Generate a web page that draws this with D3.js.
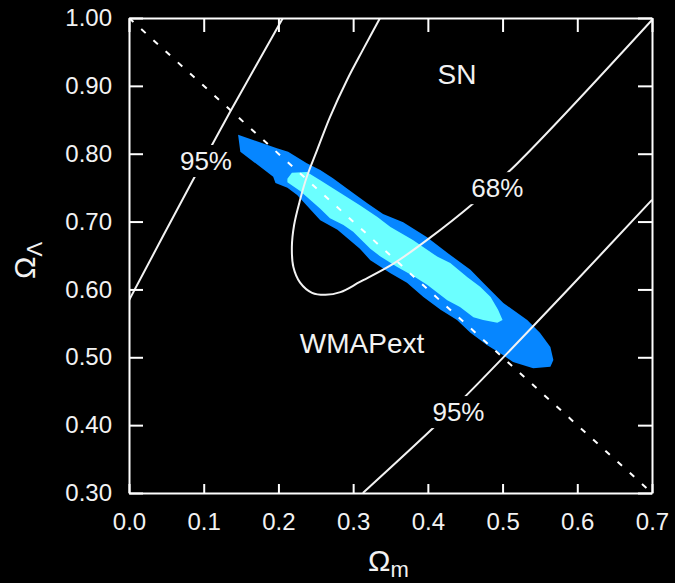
<!DOCTYPE html>
<html>
<head>
<meta charset="utf-8">
<script src="https://cdn.jsdelivr.net/npm/d3@7"></script>
<style>
  body { margin: 0; background: #000; }
  svg { display: block; background: #000; font-family: "Liberation Sans", Arial, sans-serif; }
</style>
</head>
<body>
<svg id="chart" width="675" height="583"></svg>
<script>
// tick values
const xTicks = [0.0, 0.1, 0.2, 0.3, 0.4, 0.5, 0.6, 0.7];
const yTicks = [0.30, 0.40, 0.50, 0.60, 0.70, 0.80, 0.90, 1.00];

// flat universe line, Omega_L = 1 - Omega_m
const flatM = [0.0, 0.7];
const flatL = [1.0, 0.3];

// SN contours
const sn95LeftM = [0.000, 0.084, 0.122, 0.135, 0.206];
const sn95LeftL = [0.584, 0.758, 0.835, 0.861, 1.000];
const sn95RightM = [0.313, 0.413, 0.465, 0.591, 0.700];
const sn95RightL = [0.300, 0.402, 0.459, 0.604, 0.732];
const sn68M = [0.336, 0.313, 0.292, 0.269, 0.252, 0.238, 0.229, 0.221, 0.218, 0.220, 0.229, 0.245, 0.263, 0.283, 0.309, 0.354, 0.399, 0.463, 0.520, 0.700];
const sn68L = [1.000, 0.953, 0.909, 0.854, 0.806, 0.766, 0.732, 0.695, 0.663, 0.633, 0.610, 0.595, 0.592, 0.596, 0.611, 0.638, 0.673, 0.729, 0.786, 0.997];

// WMAPext 95% region outline
const wmap95M = [0.146, 0.198, 0.213, 0.238, 0.256, 0.273, 0.300, 0.319, 0.340, 0.367, 0.399, 0.426, 0.457, 0.474, 0.501, 0.533, 0.550, 0.564, 0.568, 0.564, 0.541, 0.514, 0.501, 0.479, 0.457, 0.439, 0.417, 0.394, 0.372, 0.350, 0.323, 0.309, 0.279, 0.256, 0.225, 0.212, 0.196, 0.193, 0.149];
const wmap95L = [0.828, 0.808, 0.803, 0.786, 0.776, 0.764, 0.742, 0.727, 0.711, 0.699, 0.677, 0.654, 0.629, 0.610, 0.580, 0.555, 0.536, 0.515, 0.496, 0.486, 0.484, 0.493, 0.503, 0.518, 0.536, 0.555, 0.570, 0.589, 0.610, 0.624, 0.643, 0.660, 0.688, 0.702, 0.739, 0.750, 0.757, 0.766, 0.803];

// WMAPext 68% region outline
const wmap68M = [0.212, 0.218, 0.238, 0.256, 0.283, 0.309, 0.332, 0.350, 0.380, 0.413, 0.430, 0.453, 0.470, 0.484, 0.494, 0.500, 0.493, 0.474, 0.461, 0.443, 0.426, 0.399, 0.380, 0.359, 0.336, 0.323, 0.300, 0.287, 0.269, 0.256, 0.229, 0.212];
const wmap68L = [0.763, 0.772, 0.773, 0.761, 0.742, 0.724, 0.707, 0.692, 0.673, 0.648, 0.639, 0.618, 0.604, 0.589, 0.570, 0.555, 0.551, 0.555, 0.559, 0.574, 0.584, 0.607, 0.620, 0.633, 0.649, 0.660, 0.685, 0.695, 0.705, 0.719, 0.745, 0.758];

// annotations, anchored at text baseline centre in data units
const labelText = ["SN", "WMAPext", "95%", "68%", "95%"];
const labelM = [0.439, 0.312, 0.103, 0.493, 0.441];
const labelL = [0.903, 0.506, 0.776, 0.736, 0.406];
const labelBoxed = [false, false, true, true, true];

const margin = {top: 18, right: 23, bottom: 90, left: 129};
const width = 675 - margin.left - margin.right;
const height = 583 - margin.top - margin.bottom;

const svg = d3.select("#chart");
const g = svg.append("g").attr("transform", `translate(${margin.left},${margin.top})`);

const x = d3.scaleLinear().domain([0, 0.7]).range([0, width]);
const y = d3.scaleLinear().domain([0.3, 1.0]).range([height, 0]);

// clip everything to the plot box
g.append("clipPath").attr("id", "plotClip")
  .append("rect").attr("width", width).attr("height", height);
const plot = g.append("g").attr("clip-path", "url(#plotClip)");

function zipPts(ms, ls) {
  return ms.map(function(m, i) { return [m, ls[i]]; });
}

const closedArea = d3.line()
  .x(function(d) { return x(d[0]); })
  .y(function(d) { return y(d[1]); })
  .curve(d3.curveLinearClosed);

const smoothLine = d3.line()
  .x(function(d) { return x(d[0]); })
  .y(function(d) { return y(d[1]); })
  .curve(d3.curveCatmullRom.alpha(0.5));

// WMAPext filled regions
plot.append("path").attr("d", closedArea(zipPts(wmap95M, wmap95L))).attr("fill", "#0686ff");
plot.append("path").attr("d", closedArea(zipPts(wmap68M, wmap68L))).attr("fill", "#6bffff");

// flat universe dashed line
plot.append("path")
  .attr("d", d3.line().x(function(d) { return x(d[0]); }).y(function(d) { return y(d[1]); })(zipPts(flatM, flatL)))
  .attr("fill", "none").attr("stroke", "#fff").attr("stroke-width", 2)
  .attr("stroke-dasharray", "6,10.5");

// SN contours
[[sn95LeftM, sn95LeftL], [sn95RightM, sn95RightL], [sn68M, sn68L]].forEach(function(c) {
  plot.append("path")
    .attr("d", smoothLine(zipPts(c[0], c[1])))
    .attr("fill", "none").attr("stroke", "#f2f2f2").attr("stroke-width", 2);
});

// labels, percentages get a black box so the line breaks around them
labelText.forEach(function(t, i) {
  const lg = plot.append("g");
  const txt = lg.append("text")
    .attr("x", x(labelM[i])).attr("y", y(labelL[i]))
    .attr("text-anchor", "middle")
    .attr("fill", "#f2f2f2")
    .attr("font-size", labelBoxed[i] ? 26 : 28)
    .text(t);
  if (labelBoxed[i]) {
    const bb = txt.node().getBBox();
    lg.insert("rect", "text")
      .attr("x", bb.x - 3).attr("y", bb.y - 1)
      .attr("width", bb.width + 6).attr("height", bb.height + 2)
      .attr("fill", "#000");
  }
});

// axes with inward ticks on all four sides
const xAxis = g.append("g").attr("transform", `translate(0,${height})`)
  .call(d3.axisBottom(x).tickValues(xTicks).tickFormat(d3.format(".1f")).tickSize(-9).tickSizeOuter(0).tickPadding(20));
const yAxis = g.append("g")
  .call(d3.axisLeft(y).tickValues(yTicks).tickFormat(d3.format(".2f")).tickSize(-14).tickSizeOuter(0).tickPadding(17));
const topAxis = g.append("g")
  .call(d3.axisTop(x).tickValues(xTicks).tickFormat("").tickSize(-14).tickSizeOuter(0));
const rightAxis = g.append("g").attr("transform", `translate(${width},0)`)
  .call(d3.axisRight(y).tickValues(yTicks).tickFormat("").tickSize(-14).tickSizeOuter(0));

[xAxis, yAxis, topAxis, rightAxis].forEach(function(a) {
  a.selectAll("path, line").attr("stroke", "#fff").attr("stroke-width", 2);
  a.selectAll("text").attr("fill", "#f2f2f2").attr("font-size", 24).attr("font-family", "Liberation Sans, Arial, sans-serif");
});

// axis titles
const xTitle = svg.append("text")
  .attr("x", 368).attr("y", 571)
  .attr("fill", "#f2f2f2").attr("font-size", 30);
xTitle.append("tspan").text("Ω");
xTitle.append("tspan").attr("dy", 6).attr("font-size", 22).text("m");

const yTitle = svg.append("text")
  .attr("transform", "translate(35,279) rotate(-90)")
  .attr("fill", "#f2f2f2").attr("font-size", 30);
yTitle.append("tspan").text("Ω");
yTitle.append("tspan").attr("dy", 7).attr("font-size", 22).text("Λ");
</script>
</body>
</html>
